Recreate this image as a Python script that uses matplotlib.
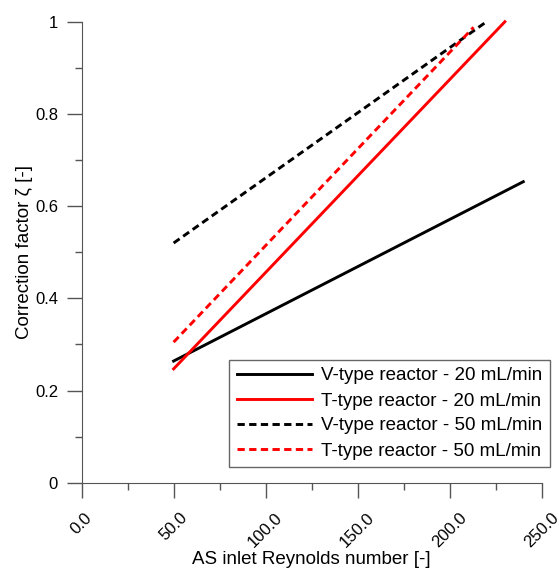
import matplotlib.pyplot as plt
from matplotlib.ticker import MultipleLocator, FuncFormatter

plt.rcParams['font.family'] = ['Liberation Sans', 'DejaVu Sans']

# straight-line fits: Reynolds number endpoints and correction factor
v20_re = [50, 240]
v20_zeta = [0.264, 0.653]
t20_re = [50, 230]
t20_zeta = [0.247, 1.0]
v50_re = [50, 220]
v50_zeta = [0.520, 1.0]
t50_re = [50, 213]
t50_zeta = [0.305, 0.988]

labels = ["V-type reactor - 20 mL/min", "T-type reactor - 20 mL/min",
          "V-type reactor - 50 mL/min", "T-type reactor - 50 mL/min"]

fs = 13.5
tick_fs = 12

fig = plt.figure(figsize=(5.59, 5.72), dpi=100)
ax = fig.add_axes([0.146, 0.156, 0.823, 0.806])

dash = (0, (2.5, 1.5))
ax.plot(v20_re, v20_zeta, c="black", lw=2.1, label=labels[0], clip_on=False)
ax.plot(t20_re, t20_zeta, c="red", lw=2.1, label=labels[1], clip_on=False)
ax.plot(v50_re, v50_zeta, c="black", lw=2.1, ls=dash, label=labels[2], clip_on=False)
ax.plot(t50_re, t50_zeta, c="red", lw=2.1, ls=dash, label=labels[3], clip_on=False)

ax.set_xlim(0, 250)
ax.set_ylim(0, 1)

ax.xaxis.set_major_locator(MultipleLocator(50))
ax.xaxis.set_minor_locator(MultipleLocator(25))
ax.yaxis.set_major_locator(MultipleLocator(0.2))
ax.yaxis.set_minor_locator(MultipleLocator(0.1))
ax.xaxis.set_major_formatter(FuncFormatter(lambda v, p: f"{v:.1f}"))
ax.yaxis.set_major_formatter(FuncFormatter(lambda v, p: f"{v:g}"))

for s in ["top", "right"]:
    ax.spines[s].set_visible(False)
for s in ["left", "bottom"]:
    ax.spines[s].set_color("#555555")

ax.tick_params(which="major", length=11, width=1, color="#555555", labelsize=tick_fs, pad=6)
ax.tick_params(axis="x", which="major", pad=8.6)
ax.tick_params(which="minor", length=5, width=1, color="#555555")
plt.setp(ax.get_xticklabels(), rotation=45, ha="center", va="top")

ax.set_xlabel("AS inlet Reynolds number [-]", fontsize=fs)
ax.set_ylabel("Correction factor ζ [-]", fontsize=fs)
ax.xaxis.set_label_coords(0.5, -0.147)
ax.yaxis.set_label_coords(-0.106, 0.5)

leg = ax.legend(loc="lower right", bbox_to_anchor=(550 / 559, 1 - 467 / 572),
                bbox_transform=fig.transFigure, fontsize=fs, handlelength=4.0,
                handletextpad=0.5, fancybox=False, framealpha=1, borderaxespad=0,
                labelspacing=0.42)
leg.get_frame().set_edgecolor("#666666")
leg.get_frame().set_linewidth(1)

fig.savefig("out.png", dpi=100)
